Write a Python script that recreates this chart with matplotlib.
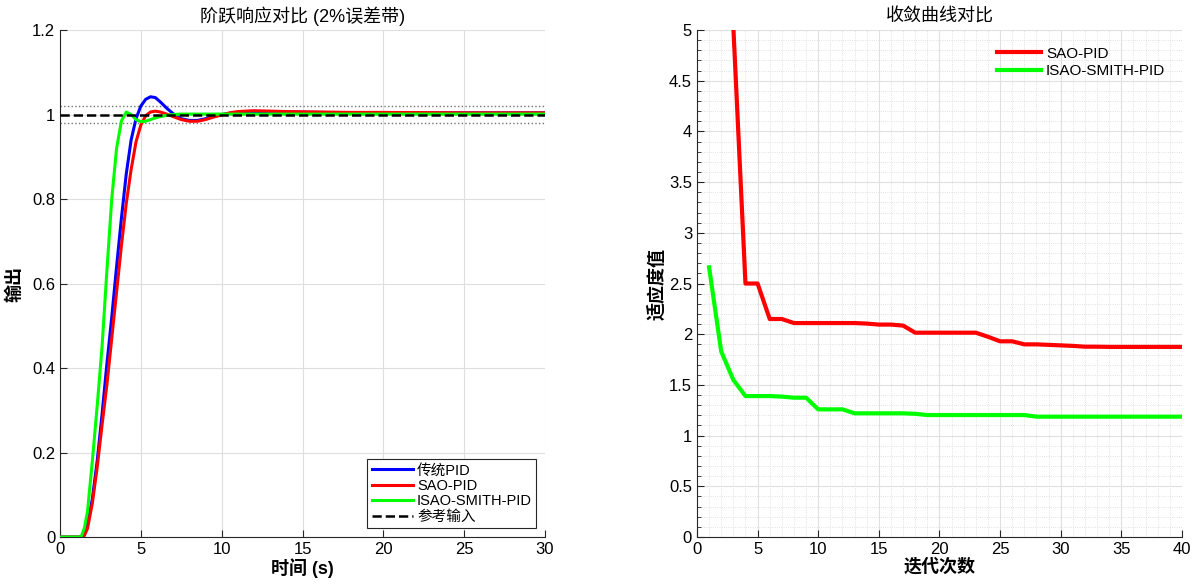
import numpy as np
import matplotlib
matplotlib.use("Agg")
import matplotlib.pyplot as plt
from matplotlib.ticker import MultipleLocator, FuncFormatter

plt.rcParams['font.family'] = ['Liberation Sans', 'Noto Sans CJK SC', 'DejaVu Sans']
plt.rcParams['axes.unicode_minus'] = False

# step response samples
t = [0, 1.3, 1.5, 1.7, 2.0, 2.3, 2.6, 2.9, 3.2, 3.5, 3.8, 4.1, 4.4, 4.7, 5.0,
     5.3, 5.6, 5.9, 6.2, 6.6, 7.0, 7.5, 8.0, 8.5, 9.0, 9.5, 10, 10.5, 11, 12,
     13, 14, 16, 18, 20, 25, 30]
y_pid = [0, 0, 0.005, 0.03, 0.09, 0.18, 0.29, 0.41, 0.52, 0.64, 0.755, 0.86,
         0.94, 0.99, 1.02, 1.036, 1.042, 1.04, 1.03, 1.015, 1.002, 0.99, 0.986,
         0.986, 0.99, 0.995, 1.0, 1.003, 1.005, 1.007, 1.007, 1.006, 1.005,
         1.004, 1.004, 1.004, 1.004]
y_sao = [0, 0, 0.003, 0.02, 0.08, 0.165, 0.265, 0.36, 0.47, 0.58, 0.69, 0.79,
         0.87, 0.935, 0.975, 0.997, 1.006, 1.008, 1.006, 1.001, 0.995, 0.988,
         0.984, 0.984, 0.988, 0.994, 0.999, 1.004, 1.007, 1.009, 1.008, 1.007,
         1.006, 1.005, 1.005, 1.004, 1.004]
y_isao = [0, 0, 0.02, 0.06, 0.18, 0.31, 0.45, 0.63, 0.80, 0.92, 0.985, 1.006,
          1.0, 0.988, 0.983, 0.984, 0.988, 0.992, 0.995, 0.998, 1.0, 1.001,
          1.001, 1.001, 1.001, 1.001, 1.001, 1.001, 1.001, 1.001, 1.001, 1.001,
          1.001, 1.001, 1.001, 1.001, 1.001]

# convergence curves
iters = list(range(1, 41))
fit_sao = [6.2, 5.6, 5.03, 2.5, 2.5, 2.15, 2.15, 2.11, 2.11, 2.11, 2.11, 2.11,
           2.11, 2.105, 2.095, 2.095, 2.085, 2.015, 2.015, 2.015, 2.015, 2.015,
           2.015, 1.975, 1.93, 1.93, 1.9, 1.9, 1.895, 1.89, 1.885, 1.877,
           1.877, 1.875, 1.875, 1.875, 1.875, 1.875, 1.875, 1.875]
fit_isao = [2.66, 1.83, 1.55, 1.39, 1.39, 1.39, 1.385, 1.374, 1.374, 1.259,
            1.259, 1.259, 1.22, 1.22, 1.22, 1.22, 1.22, 1.215, 1.203, 1.203,
            1.203, 1.203, 1.203, 1.203, 1.203, 1.203, 1.203, 1.187, 1.187,
            1.187, 1.187, 1.187, 1.187, 1.187, 1.187, 1.187, 1.187, 1.187,
            1.187, 1.187]

fig = plt.figure(figsize=(12, 5.85), dpi=100)
ax1 = fig.add_axes([0.05, 0.082, 0.4042, 0.8667])
ax2 = fig.add_axes([0.5808, 0.082, 0.4042, 0.8667])

def fmt(v, pos):
    s = ('%.1f' % v).rstrip('0').rstrip('.')
    return s

def style(ax):
    for s in ['top', 'right']:
        ax.spines[s].set_visible(False)
    for s in ['left', 'bottom']:
        ax.spines[s].set_color('#262626')
        ax.spines[s].set_linewidth(0.8)
    ax.tick_params(direction='in', colors='#262626', labelsize=12, length=5,
                   labelcolor='black')
    ax.tick_params(which='minor', direction='in', length=3, colors='#262626')
    ax.yaxis.set_major_formatter(FuncFormatter(fmt))

# left: step responses
ax1.plot(t, y_pid, color='#0000ff', lw=2.2, label='传统PID', zorder=3)
ax1.plot(t, y_sao, color='#ff0000', lw=2.2, label='SAO-PID', zorder=4)
ax1.plot(t, y_isao, color='#00ff00', lw=2.2, label='ISAO-SMITH-PID', zorder=5)
ax1.plot([0, 30], [1, 1], 'k--', lw=1.8, label='参考输入', zorder=6)
ax1.axhline(1.02, color='0.45', ls=':', lw=1.0, zorder=2)
ax1.axhline(0.98, color='0.45', ls=':', lw=1.0, zorder=2)
ax1.set_xlim(0, 30)
ax1.set_ylim(0, 1.2)
ax1.xaxis.set_major_locator(MultipleLocator(5))
ax1.yaxis.set_major_locator(MultipleLocator(0.2))
ax1.grid(True, color='#dedede', lw=0.8)
ax1.set_axisbelow(True)
style(ax1)
ax1.set_title('阶跃响应对比 (2%误差带)', fontsize=13, pad=6)
ax1.set_xlabel('时间 (s)', fontsize=13, fontweight='bold', labelpad=1)
ax1.set_ylabel('输出', fontsize=13, fontweight='bold', labelpad=6)
leg1 = ax1.legend(loc='lower right', fontsize=10.5, fancybox=False,
                  framealpha=1, edgecolor='#262626', handlelength=2.8,
                  borderpad=0.3, labelspacing=0.1, handletextpad=0.3,
                  borderaxespad=0.6)
leg1.get_frame().set_linewidth(0.8)

# right: convergence
ax2.plot(iters, fit_sao, color='#ff0000', lw=3, label='SAO-PID')
ax2.plot(iters, fit_isao, color='#00ff00', lw=3, label='ISAO-SMITH-PID')
ax2.set_xlim(0, 40)
ax2.set_ylim(0, 5)
ax2.xaxis.set_major_locator(MultipleLocator(5))
ax2.xaxis.set_minor_locator(MultipleLocator(1))
ax2.yaxis.set_major_locator(MultipleLocator(0.5))
ax2.yaxis.set_minor_locator(MultipleLocator(0.1))
ax2.grid(True, which='major', color='#e0e0e0', lw=0.8)
ax2.grid(True, which='minor', color='#d8d8d8', lw=0.6, ls=':')
ax2.set_axisbelow(True)
style(ax2)
ax2.tick_params(axis='x', which='minor', length=0)
ax2.set_title('收敛曲线对比', fontsize=13, pad=6)
ax2.set_xlabel('迭代次数', fontsize=13, fontweight='bold', labelpad=1)
ax2.set_ylabel('适应度值', fontsize=13, fontweight='bold', labelpad=2)
ax2.legend(loc='upper right', fontsize=11, frameon=False, handlelength=2.9,
           labelspacing=0.2, handletextpad=0.3, borderaxespad=0.7)

fig.savefig('out.png', dpi=100)
